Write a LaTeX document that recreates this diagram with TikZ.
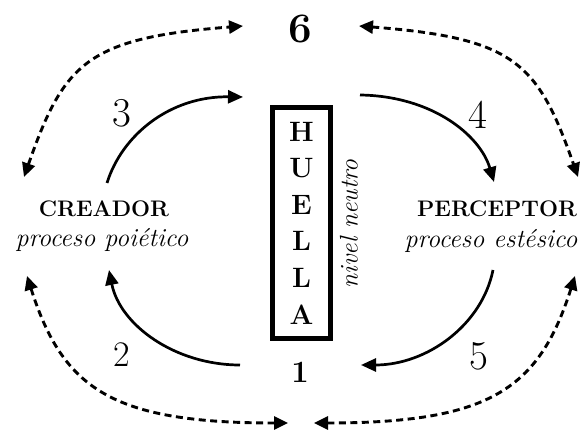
\documentclass[tikz,border=0pt]{standalone}
\usepackage{fontspec}
\usetikzlibrary{arrows.meta}
\newcommand\heavybf{\bfseries\addfontfeature{FakeBold=0.8}}
\tikzset{
  solidarrow/.style={line width=2.7pt,-{Triangle[length=15pt,width=13pt]}},
  dotarrow/.style={line width=2.9pt,dash pattern=on 7pt off 4.5pt,{Triangle[length=14pt,width=13pt]}-{Triangle[length=14pt,width=13pt]}},
  numlabel/.style={font=\fontsize{41}{41}\selectfont},
  boldlab/.style={font=\fontsize{22.5}{22.5}\selectfont\heavybf,anchor=base},
  itlab/.style={font=\fontsize{26}{26}\selectfont\itshape,anchor=base},
}
\begin{document}
\begin{tikzpicture}[x=1pt,y=-1pt]
\useasboundingbox (0,0) rectangle (581,430);
% central box
\node[draw,line width=5pt,inner sep=0pt,minimum width=58pt,minimum height=231pt,
      align=center,font=\fontsize{28}{36.6}\selectfont\heavybf] (huella) at (301.5,223)
      {\raisebox{-3pt}{\parbox{40pt}{\centering H\\U\\E\\L\\L\\A}}};
\node[rotate=90,font=\fontsize{25.5}{25.5}\selectfont\itshape] (nivel) at (349,224) {nivel neutro};
% labels
\node[font=\fontsize{42}{42}\selectfont\heavybf] (six) at (300,28.5) {6};
\node[font=\fontsize{31}{31}\selectfont\heavybf] (one) at (300,372) {1};
\node[boldlab] (creador) at (104,217) {CREADOR};
\node[itlab] (poietico) at (102,247) {proceso poiético};
\node[boldlab] (perceptor) at (497,217) {PERCEPTOR};
\node[itlab] (estesico) at (491,248) {proceso estésico};
\node[numlabel] (n3) at (122,113.5) {3};
\node[numlabel] (n4) at (478,115) {4};
\node[font=\fontsize{36}{36}\selectfont] (n2) at (122,354.5) {2};
\node[numlabel] (n5) at (478.5,356) {5};
% coordinates for connector ends
\coordinate (a3s) at (107,183);
\coordinate (a3e) at (243,97);
\coordinate (a4s) at (360,95);
\coordinate (a4e) at (494,182);
\coordinate (a2s) at (240,365);
\coordinate (a2e) at (109,270);
\coordinate (a5s) at (493,270);
\coordinate (a5e) at (361,365);
\coordinate (tl1) at (24,177);
\coordinate (tl2) at (243,26);
\coordinate (tr1) at (359,26);
\coordinate (tr2) at (578,177);
\coordinate (bl1) at (27,276);
\coordinate (bl2) at (288,423);
\coordinate (br1) at (314,423);
\coordinate (br2) at (575,276);
% solid arrows
\draw[solidarrow] (a3s) .. controls (122,135) and (170,96) .. (a3e);
\draw[solidarrow] (a4s) .. controls (432,96) and (480,135) .. (a4e);
\draw[solidarrow] (a2s) .. controls (175,365) and (120,325) .. (a2e);
\draw[solidarrow] (a5s) .. controls (482,325) and (427,365) .. (a5e);
% dotted double arrows
\draw[dotarrow] (tl1) .. controls (64,63) and (87,38) .. (tl2);
\draw[dotarrow] (tr1) .. controls (515,38) and (538,63) .. (tr2);
\draw[dotarrow] (bl1) .. controls (63,389) and (112,423) .. (bl2);
\draw[dotarrow] (br1) .. controls (490,423) and (539,389) .. (br2);
\end{tikzpicture}
\end{document}
